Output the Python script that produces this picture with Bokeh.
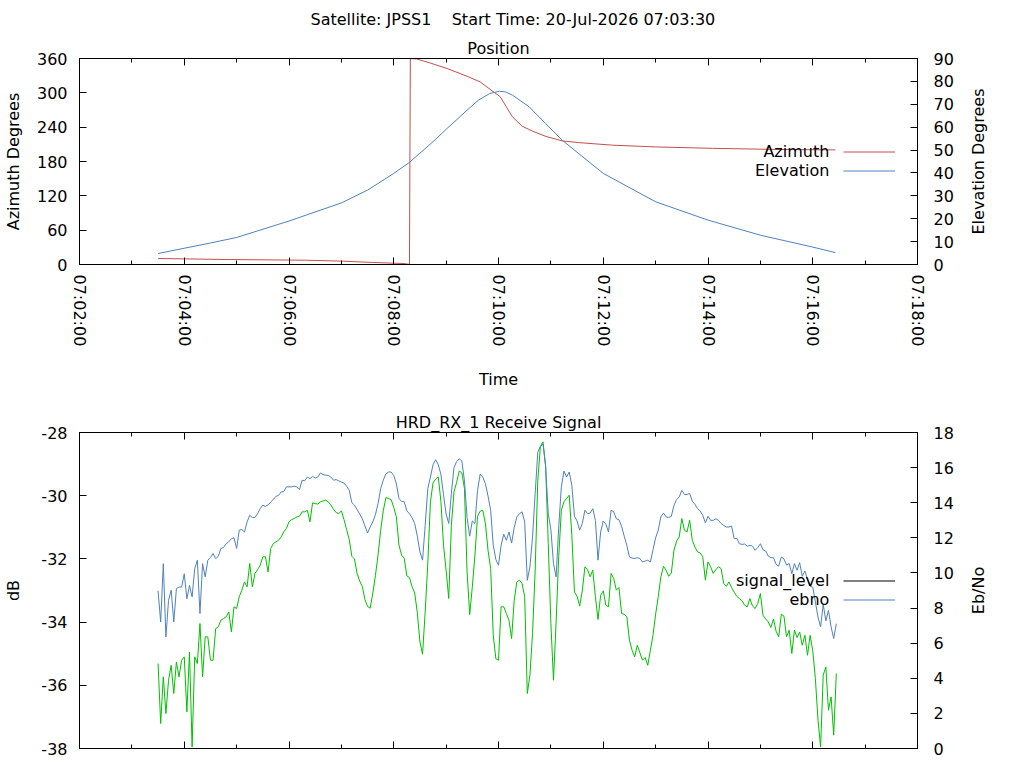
import math
import pandas as pd
from bokeh.plotting import figure
from bokeh.models import (Range1d, LinearAxis, DatetimeAxis, FixedTicker, SingleIntervalTicker,
                          DatetimeTickFormatter, CustomJSTickFormatter, Legend, LegendItem,
                          Label, Title)
from bokeh.layouts import column, row
from bokeh.core.properties import value
from bokeh.embed import file_html
from bokeh.resources import INLINE

DAY = "2026-07-20 "
FONT = "DejaVu Sans"
RED, BLUE, GREEN = "#c0504d", "#4f81bd", "#00c000"
NB = "\u00a0"
MAIN_TITLE = "Satellite: JPSS1" + NB * 4 + "Start Time: 20-Jul-2026 07:03:30"

# --- position track ---
az_time = ["07:03:30", "07:04:50", "07:06:19", "07:07:02", "07:07:37", "07:08:12",
           "07:08:18", "07:08:19", "07:08:26", "07:08:42", "07:09:01", "07:09:24",
           "07:09:39", "07:10:02", "07:10:16", "07:10:27", "07:10:39", "07:10:54",
           "07:11:13", "07:11:32", "07:12:11", "07:13:00", "07:14:05", "07:15:22",
           "07:16:26"]
az_deg = [10.5, 8.7, 7.5, 5.8, 3.5, 1.7, 0.2, 359.8, 359.3, 352.0, 342.5, 329.0,
          319.0, 293.0, 258.0, 241.7, 233.0, 224.0, 216.0, 213.0, 208.5, 205.5,
          203.0, 201.0, 200.3]

el_time = ["07:03:30", "07:04:00", "07:04:30", "07:05:00", "07:06:00", "07:07:00",
           "07:07:30", "07:08:00", "07:08:18", "07:08:46", "07:09:01", "07:09:24",
           "07:09:37", "07:09:50", "07:10:01", "07:10:08", "07:10:16", "07:10:35",
           "07:10:54", "07:11:13", "07:12:00", "07:13:00", "07:14:00", "07:15:00",
           "07:15:59", "07:16:26"]
el_deg = [4.8, 7.1, 9.4, 11.8, 19.0, 26.9, 32.5, 39.8, 44.6, 54.0, 59.4, 67.4,
          71.8, 74.7, 75.7, 75.4, 74.0, 68.9, 61.6, 54.3, 39.8, 27.4, 19.4, 12.8,
          7.7, 5.2]

# --- receive signal: one sample every 3 s from the start of the pass ---
sig_start = "07:03:30"
sig_step_s = 3

# blue trace, dB (left axis)
signal_db = [
    -33.01, -34.00, -32.15, -34.47, -33.31, -32.99, -34.00, -32.94, -32.89, -32.89,
    -32.47, -33.26, -32.84, -33.20, -32.31, -32.04, -33.73, -32.15, -32.57, -32.04,
    -31.96, -31.83, -31.99, -31.92, -31.67, -31.64, -31.52, -31.46, -31.36, -31.33,
    -31.67, -31.09, -31.07, -31.15, -30.83, -30.62, -30.69, -30.69, -30.57, -30.41,
    -30.30, -30.34, -30.29, -30.20, -30.12, -30.02, -29.99, -29.88, -29.87, -29.72,
    -29.72, -29.72, -29.70, -29.72, -29.81, -29.51, -29.53, -29.41, -29.46, -29.39,
    -29.44, -29.41, -29.28, -29.33, -29.35, -29.36, -29.41, -29.51, -29.49, -29.53,
    -29.57, -29.60, -29.70, -29.83, -30.22, -30.30, -30.44, -30.58, -30.73, -30.96,
    -31.18, -30.99, -30.83, -30.60, -30.25, -29.78, -29.51, -29.31, -29.25, -29.25,
    -29.36, -29.62, -30.09, -30.18, -30.19, -30.48, -30.57, -30.70, -30.88, -31.28,
    -31.78, -32.04, -30.94, -29.78, -29.41, -29.02, -28.86, -29.02, -29.32, -29.97,
    -30.58, -30.88, -29.93, -29.11, -28.92, -28.83, -28.90, -29.53, -30.69, -31.28,
    -30.80, -30.88, -29.83, -29.32, -29.41, -29.62, -30.01, -30.46, -31.57, -32.02,
    -32.20, -31.57, -31.22, -31.41, -31.15, -31.50, -31.01, -30.67, -30.57, -30.51,
    -30.83, -32.68, -32.25, -31.31, -29.93, -28.62, -28.44, -28.37, -29.07, -30.57,
    -31.07, -32.15, -32.57, -30.99, -29.72, -29.22, -29.41, -29.25, -29.67, -30.65,
    -30.80, -31.09, -30.88, -30.46, -30.57, -30.55, -30.41, -30.78, -32.04, -31.15,
    -30.80, -30.90, -31.15, -30.46, -30.51, -30.73, -30.76, -30.97, -31.28, -31.57,
    -31.94, -31.97, -31.99, -31.96, -31.99, -32.10, -32.07, -32.04, -32.10, -31.71,
    -31.33, -31.09, -30.67, -30.55, -30.67, -30.69, -30.65, -30.31, -30.12, -30.04,
    -29.83, -29.96, -29.96, -29.93, -30.17, -30.27, -30.41, -30.48, -30.62, -30.86,
    -30.65, -30.78, -30.78, -30.73, -30.78, -30.88, -30.94, -30.99, -30.99, -30.96,
    -31.36, -31.35, -31.52, -31.54, -31.53, -31.60, -31.57, -31.60, -31.73, -31.64,
    -31.52, -31.71, -31.75, -31.91, -31.96, -31.96, -32.17, -32.23, -31.94, -32.00,
    -32.20, -32.15, -32.47, -32.15, -32.36, -32.12, -32.55, -32.38, -32.66, -32.87,
    -32.89, -33.36, -33.84, -34.15, -33.44, -33.96, -33.63, -34.15, -34.52, -34.05,
]

# green trace, Eb/No (right axis)
ebno = [
    4.84, 1.42, 4.08, 1.99, 3.89, 4.74, 3.13, 4.93, 4.08, 5.03,
    5.22, 2.09, 5.50, 0.09, 5.22, 4.84, 7.12, 4.08, 6.36, 6.36,
    5.03, 5.03, 6.83, 6.93, 7.31, 7.40, 7.50, 7.78, 6.64, 8.07,
    7.97, 8.64, 9.02, 9.49, 9.21, 10.54, 9.21, 9.97, 10.19, 10.44,
    10.92, 10.92, 10.06, 11.39, 11.67, 11.77, 11.86, 12.05, 12.34, 12.53,
    12.91, 13.04, 13.10, 13.19, 13.23, 13.48, 13.48, 13.57, 12.91, 13.99,
    13.95, 13.92, 14.05, 14.10, 14.14, 14.05, 13.86, 13.63, 13.44, 13.38,
    13.54, 13.04, 12.47, 11.90, 10.95, 10.80, 9.97, 9.53, 9.23, 8.48,
    8.09, 7.99, 8.85, 9.85, 11.01, 12.43, 13.54, 14.29, 14.24, 14.18,
    13.73, 13.19, 11.58, 11.01, 10.84, 9.83, 9.74, 9.21, 8.86, 7.74,
    6.07, 5.37, 7.78, 10.54, 14.05, 15.13, 15.34, 15.47, 14.09, 11.58,
    10.14, 8.54, 12.72, 14.62, 15.15, 15.81, 15.70, 14.81, 10.06, 7.63,
    9.21, 11.01, 13.23, 13.52, 13.57, 12.81, 11.29, 10.25, 6.45, 5.11,
    5.03, 8.07, 8.07, 7.69, 7.31, 6.26, 8.45, 9.49, 9.59, 9.40,
    8.64, 3.13, 4.18, 6.55, 10.16, 15.28, 17.22, 17.47, 16.08, 11.67,
    7.12, 3.89, 7.21, 10.92, 13.57, 14.05, 14.24, 14.43, 12.15, 8.92,
    8.67, 8.11, 8.98, 10.35, 10.19, 9.78, 10.16, 8.64, 7.35, 8.73,
    8.98, 8.16, 8.07, 9.97, 9.68, 9.02, 9.17, 7.69, 7.65, 7.50,
    6.17, 5.60, 5.22, 5.88, 5.45, 5.03, 5.18, 4.74, 5.60, 6.45,
    7.65, 8.64, 9.78, 10.38, 10.16, 9.81, 10.00, 11.29, 11.81, 12.05,
    13.10, 12.43, 12.34, 13.00, 11.86, 11.48, 11.20, 11.14, 10.92, 9.59,
    10.63, 10.35, 9.97, 10.19, 10.35, 10.25, 9.40, 9.24, 9.49, 9.17,
    8.90, 8.67, 8.54, 8.41, 8.16, 8.07, 8.54, 8.11, 7.97, 8.26,
    8.83, 7.59, 7.38, 7.21, 6.89, 7.38, 6.68, 6.36, 7.65, 7.54,
    6.36, 6.74, 5.41, 6.74, 6.32, 6.64, 5.88, 6.45, 5.31, 6.45,
    5.56, 3.99, 1.61, 0.09, 4.18, 4.65, 2.18, 2.94, 0.76, 4.27,
]


def t(hms):
    return pd.Timestamp(DAY + hms)


def ms(ts):
    return ts.value / 1e6


x_start, x_end = t("07:02:00"), t("07:18:00")
major_ms = [ms(x) for x in pd.date_range(x_start, x_end, freq="2min")]
minor_ms = [ms(x) for x in pd.date_range(x_start, x_end, freq="1min")]
hms_fmt = "%H:%M:%S"
time_fmt = DatetimeTickFormatter(seconds=hms_fmt, minsec=hms_fmt, minutes=hms_fmt,
                                 hourmin=hms_fmt, hours=hms_fmt)
key_text_x = ms(t("07:16:19"))

TOP_H = 58 + 206 + 134
BOT_H = 34 + 316 + 12


def style_axis(ax):
    ax.axis_line_color = "black"
    ax.major_tick_line_color = "black"
    ax.minor_tick_line_color = "black"
    ax.major_tick_out = 0
    ax.minor_tick_out = 0
    ax.major_label_text_font = FONT
    ax.major_label_text_font_size = "16px"
    ax.major_label_text_color = "black"
    ax.axis_label_text_font = FONT
    ax.axis_label_text_font_size = "16px"
    ax.axis_label_text_font_style = "normal"
    ax.axis_label_text_color = "black"


def base_figure(frame_h, y_range, top, bottom, show_time_labels):
    p = figure(frame_width=838, frame_height=frame_h, x_axis_type="datetime",
               x_range=Range1d(x_start, x_end), y_range=y_range, title=None,
               toolbar_location=None, output_backend="svg",
               min_border_left=79, min_border_right=43,
               min_border_top=top, min_border_bottom=bottom)
    p.xgrid.visible = False
    p.ygrid.visible = False
    p.outline_line_color = "black"
    p.outline_line_width = 1

    xa = p.below[0]
    style_axis(xa)
    xa.ticker = FixedTicker(ticks=major_ms, minor_ticks=minor_ms)
    xa.major_tick_in = 7
    xa.minor_tick_in = 4
    if show_time_labels:
        xa.formatter = time_fmt
        xa.major_label_orientation = -math.pi / 2
        xa.major_label_standoff = 10
    else:
        xa.formatter = CustomJSTickFormatter(code="return ''")
        xa.major_label_text_font_size = "0px"
        xa.major_label_standoff = 0

    # mirrored ticks on the top border
    xt = DatetimeAxis(ticker=FixedTicker(ticks=major_ms, minor_ticks=minor_ms),
                      formatter=CustomJSTickFormatter(code="return ''"))
    style_axis(xt)
    xt.major_tick_in = 7
    xt.minor_tick_in = 4
    xt.major_label_text_font_size = "0px"
    xt.major_label_standoff = 0
    p.add_layout(xt, "above")
    return p


def add_titles(p, texts):
    for i, txt in enumerate(texts):
        if i == 0:
            ttl = Title(text=txt, align="center", standoff=2)
        else:
            ttl = Title(text=txt, align="left", offset=231, standoff=13)
        ttl.text_font = FONT
        ttl.text_font_size = "16px"
        ttl.text_font_style = "normal"
        ttl.text_color = "black"
        p.add_layout(ttl, "above")


def left_axis(p, interval, label, standoff):
    ya = p.left[0]
    style_axis(ya)
    ya.ticker = SingleIntervalTicker(interval=interval, num_minor_ticks=0)
    ya.formatter = CustomJSTickFormatter(code="return tick.toFixed(0)")
    ya.major_tick_in = 7
    ya.minor_tick_in = 0
    ya.minor_tick_line_color = None
    ya.major_label_standoff = 12
    ya.axis_label = label
    ya.axis_label_standoff = standoff


def right_axis(p, range_name, interval):
    ra = LinearAxis(y_range_name=range_name,
                    ticker=SingleIntervalTicker(interval=interval, num_minor_ticks=0),
                    formatter=CustomJSTickFormatter(code="return tick.toFixed(0)"))
    style_axis(ra)
    ra.major_tick_in = 7
    ra.minor_tick_in = 0
    ra.minor_tick_line_color = None
    ra.major_label_standoff = 16
    p.add_layout(ra, "right")


def side_caption(height, txt, y):
    # narrow strip to the right of a plot holding its right-axis caption
    s = figure(width=40, height=height, x_range=Range1d(0, 40), y_range=Range1d(height, 0),
               toolbar_location=None, output_backend="svg", min_border=0,
               x_axis_location=None, y_axis_location=None, title=None)
    s.grid.visible = False
    s.outline_line_color = None
    s.add_layout(Label(x=17.5, y=y, text=txt, text_align="center", text_baseline="middle",
                       angle=math.pi / 2, text_font=FONT, text_font_size="16px",
                       text_color="black"))
    return s


def key(p, renderers, texts, ys, loc):
    items = [LegendItem(label=value(" "), renderers=[r]) for r in renderers]
    leg = Legend(items=items, location=loc, glyph_width=52, glyph_height=19,
                 label_height=19, label_width=0, label_standoff=0, padding=0,
                 margin=0, spacing=0, border_line_color=None,
                 background_fill_alpha=0, label_text_font_size="0px")
    p.add_layout(leg)
    for txt, y in zip(texts, ys):
        p.add_layout(Label(x=key_text_x, y=y, text=txt, text_align="right",
                           text_baseline="middle", text_font=FONT,
                           text_font_size="16px", text_color="black"))


# ---------- top: position ----------
p1 = base_figure(206, Range1d(0, 360), 58, 134, True)
p1.extra_y_ranges = {"elev": Range1d(0, 90)}
left_axis(p1, 60, "Azimuth Degrees", 11)
right_axis(p1, "elev", 10)
p1.below[0].axis_label = "Time"
p1.below[0].axis_label_standoff = 21
add_titles(p1, ["Position", MAIN_TITLE])

az_r = p1.line([t(s) for s in az_time], az_deg, line_color=RED, line_width=1)
el_r = p1.line([t(s) for s in el_time], el_deg, line_color=BLUE, line_width=1,
               y_range_name="elev")
key(p1, [az_r, el_r], ["Azimuth", "Elevation"], [198, 165], (764, 84))

# ---------- bottom: receive signal ----------
sig_time = pd.date_range(t(sig_start), periods=len(signal_db), freq=f"{sig_step_s}s")

p2 = base_figure(316, Range1d(-38, -28), 34, 12, False)
p2.extra_y_ranges = {"ebno": Range1d(0, 18)}
left_axis(p2, 2, "dB", 15)
right_axis(p2, "ebno", 2)
add_titles(p2, ["HRD_RX_1 Receive Signal"])

p2.line(sig_time, ebno, line_color=GREEN, line_width=1, y_range_name="ebno")
sig_r = p2.line(sig_time, signal_db, line_color=BLUE, line_width=1)
# signal_level has a legend entry but no visible trace
level_r = p2.line(x=[t(sig_start)], y=[float("nan")], line_color="black", line_width=1)
key(p2, [level_r, sig_r], ["signal_level", "ebno"], [-32.67, -33.28], (764, 139))

s1 = side_caption(TOP_H, "Elevation Degrees", 161)
s2 = side_caption(BOT_H, "Eb/No", 590 - TOP_H)

layout = row(column(p1, p2), column(s1, s2))
open("out.html", "w").write(file_html(layout, INLINE))
